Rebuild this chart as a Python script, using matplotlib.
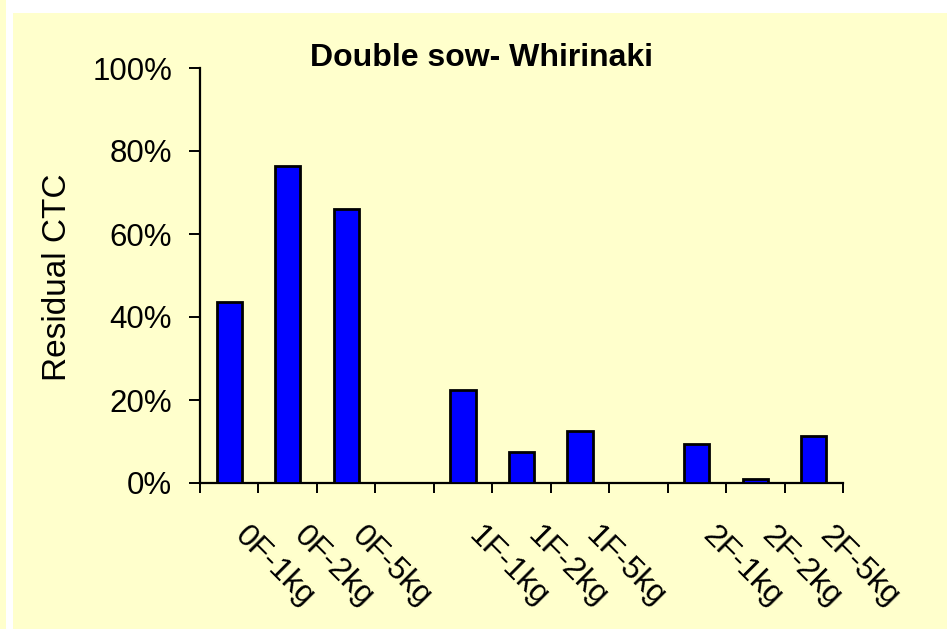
import matplotlib
matplotlib.use("Agg")
import matplotlib.pyplot as plt
import matplotlib.transforms as mtransforms
from matplotlib.patches import Rectangle
from matplotlib.ticker import FuncFormatter

plt.rcParams['font.family'] = ['Liberation Sans', 'DejaVu Sans']

# --- data ---
categories = ['0F-1kg', '0F-2kg', '0F-5kg', '',
              '1F-1kg', '1F-2kg', '1F-5kg', '',
              '2F-1kg', '2F-2kg', '2F-5kg']
residual_ctc = [43.5, 76.4, 66.1, 0.0,
                22.3, 7.5, 12.5, 0.0,
                9.4, 1.0, 11.3]
y_ticks = [0, 20, 40, 60, 80, 100]

W, H = 952, 629
fig = plt.figure(figsize=(W / 100, H / 100), dpi=100, facecolor='white')

# pale yellow chart area (plus thin strip on the far left)
bg = '#FFFFCC'
fig.patches.append(Rectangle((13 / W, 0), (947 - 13) / W, (H - 13) / H,
                             transform=fig.transFigure, facecolor=bg,
                             edgecolor='none', zorder=-10))
fig.patches.append(Rectangle((0, 0), 6 / W, 1, transform=fig.transFigure,
                             facecolor=bg, edgecolor='none', zorder=-10))

ax = fig.add_axes([200 / W, (H - 483) / H, (843 - 200) / W, (483 - 68) / H])
ax.set_facecolor('none')

x = list(range(len(categories)))
ax.bar(x, residual_ctc, width=0.43, color='#0000FF', edgecolor='black',
       linewidth=2.0, zorder=3)

ax.set_xlim(-0.5, len(categories) - 0.5)
ax.set_ylim(0, 100)
ax.set_yticks(y_ticks)
ax.yaxis.set_major_formatter(FuncFormatter(lambda v, p: f"{v:.0f}%"))
ax.tick_params(axis='y', direction='out', length=8, width=1.4,
               labelsize=22.5, pad=12)

# category boundaries carry the tick marks
ax.set_xticks([i - 0.5 for i in range(len(categories) + 1)])
ax.set_xticklabels([])
ax.tick_params(axis='x', direction='out', length=7, width=1.4)

for side in ['top', 'right']:
    ax.spines[side].set_visible(False)
for side in ['left', 'bottom']:
    ax.spines[side].set_linewidth(1.6)

# rotated category labels, starting just right of each category centre
offset = mtransforms.ScaledTranslation(21 / 100, -38 / 100, fig.dpi_scale_trans)
for xi, lab in zip(x, categories):
    if lab:
        ax.text(xi, 0, lab, transform=ax.get_xaxis_transform() + offset,
                rotation=-45, rotation_mode='anchor', ha='left', va='top',
                fontsize=23)

ax.set_ylabel('Residual CTC', fontsize=24)
ax.yaxis.set_label_coords(58 / W, (H - 277) / H, transform=fig.transFigure)
ax.yaxis.label.set_va('center')

fig.text(481 / W, (H - 58) / H, 'Double sow- Whirinaki', ha='center',
         va='center', fontsize=23, fontweight='bold')

fig.savefig('out.png', dpi=100, facecolor=fig.get_facecolor())
